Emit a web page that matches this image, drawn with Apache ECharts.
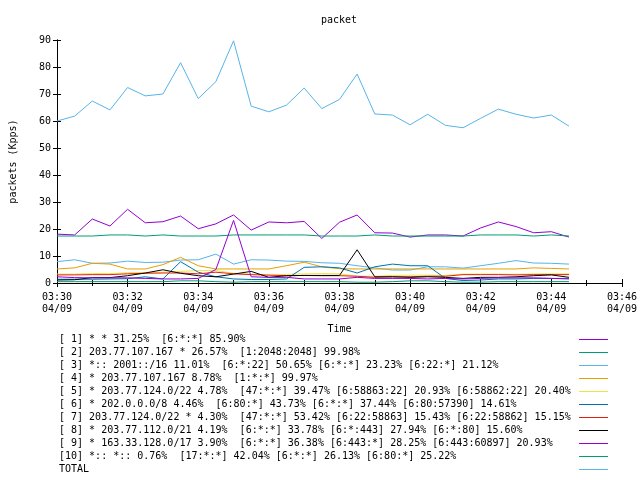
<!DOCTYPE html>
<html><head><meta charset="utf-8">
<script src="https://cdn.jsdelivr.net/npm/echarts@6/dist/echarts.min.js"></script>
<style>html,body{margin:0;padding:0;background:#fff}#c{width:640px;height:480px}</style>
</head><body><div id="c"></div>
<script>
const titleText = 'packet';
const xName = 'Time';
const yName = 'packets (Kpps)';
const times = ['03:30:00','03:30:30','03:31:00','03:31:30','03:32:00','03:32:30','03:33:00','03:33:30','03:34:00','03:34:30',
  '03:35:00','03:35:30','03:36:00','03:36:30','03:37:00','03:37:30','03:38:00','03:38:30','03:39:00','03:39:30',
  '03:40:00','03:40:30','03:41:00','03:41:30','03:42:00','03:42:30','03:43:00','03:43:30','03:44:00','03:44:30'];
const tickLabels = ['03:30\n04/09','03:32\n04/09','03:34\n04/09','03:36\n04/09','03:38\n04/09','03:40\n04/09','03:42\n04/09','03:44\n04/09','03:46\n04/09'];
const yTicks = [0,10,20,30,40,50,60,70,80,90];

const s1 = [18.1,17.8,23.7,21.1,27.3,22.3,22.7,24.8,20.1,21.9,25.2,19.6,22.6,22.3,22.8,16.5,22.5,25.2,18.6,18.5,17.0,17.8,17.8,17.4,20.4,22.6,20.9,18.6,19.0,17.0];
const s2 = [17.4,17.4,17.4,17.8,17.8,17.4,17.8,17.4,17.4,17.4,17.8,17.8,17.8,17.8,17.8,17.4,17.4,17.4,17.8,17.4,17.4,17.4,17.4,17.4,17.8,17.8,17.8,17.4,17.8,17.4];
const s3 = [7.9,8.6,7.3,7.4,8.1,7.6,7.7,8.5,8.6,10.7,7.0,8.6,8.5,8.1,8.0,7.5,7.3,6.4,5.6,4.8,4.8,6.0,6.0,5.5,6.4,7.3,8.3,7.4,7.3,7.0];
const s4 = [5.2,5.6,7.3,7.0,5.2,5.2,6.8,9.5,6.4,5.2,5.2,5.2,5.2,6.4,7.7,6.0,5.3,5.2,5.2,5.2,5.2,5.2,5.2,5.2,5.2,5.2,5.2,5.6,5.4,5.2];
const s5 = [3.3,3.3,3.5,3.5,3.8,3.9,4.0,4.3,4.6,4.6,3.6,3.3,3.0,3.2,3.4,3.5,3.4,2.5,2.5,2.8,2.9,2.9,2.8,3.3,3.3,3.3,3.2,3.4,3.4,3.4];
const s6 = [1.4,1.4,1.4,1.5,1.6,2.3,1.5,7.9,4.0,2.3,1.5,1.3,1.3,1.5,5.8,6.0,5.6,3.7,6.0,7.0,6.4,6.4,1.7,0.9,1.1,1.5,1.5,1.7,1.7,1.7];
const s7 = [3.0,3.0,3.1,3.1,3.4,3.6,3.7,3.7,3.4,4.0,3.4,3.1,2.9,2.7,2.8,2.7,2.7,2.5,2.1,2.3,2.3,2.5,2.5,3.1,3.1,3.1,3.0,3.1,3.1,3.1];
const s8 = [1.1,1.2,2.0,2.0,2.7,3.7,4.9,3.6,2.7,2.3,3.3,4.3,2.1,2.7,2.8,2.8,2.8,12.3,2.3,2.3,2.1,2.3,2.1,1.7,2.1,2.1,2.3,2.7,3.0,2.1];
const s9 = [2.3,2.0,1.9,1.9,1.9,1.7,1.5,1.5,1.7,5.0,23.2,2.3,2.1,2.1,1.5,1.5,1.5,2.1,1.7,1.7,1.7,1.5,1.7,1.5,1.7,1.9,1.9,1.9,1.7,1.5];
const s10 = [0.5,0.5,0.5,0.5,0.5,0.5,0.5,0.8,0.8,0.5,0.3,0.5,0.5,0.5,0.5,0.5,0.5,0.3,0.3,0.5,0.8,0.8,0.5,0.3,0.3,0.5,0.5,0.5,0.5,0.5];
const total = [60.0,61.8,67.4,64.1,72.4,69.3,70.0,81.6,68.3,74.6,89.7,65.5,63.4,65.9,72.2,64.6,68.0,77.4,62.6,62.2,58.6,62.5,58.4,57.5,61.0,64.4,62.5,61.1,62.2,58.1];

const seriesNames = [
  '[ 1] * * 31.25%  [6:*:*] 85.90%',
  '[ 2] 203.77.107.167 * 26.57%  [1:2048:2048] 99.98%',
  '[ 3] *:: 2001::/16 11.01%  [6:*:22] 50.65% [6:*:*] 23.23% [6:22:*] 21.12%',
  '[ 4] * 203.77.107.167 8.78%  [1:*:*] 99.97%',
  '[ 5] * 203.77.124.0/22 4.78%  [47:*:*] 39.47% [6:58863:22] 20.93% [6:58862:22] 20.40%',
  '[ 6] * 202.0.0.0/8 4.46%  [6:80:*] 43.73% [6:*:*] 37.44% [6:80:57390] 14.61%',
  '[ 7] 203.77.124.0/22 * 4.30%  [47:*:*] 53.42% [6:22:58863] 15.43% [6:22:58862] 15.15%',
  '[ 8] * 203.77.112.0/21 4.19%  [6:*:*] 33.78% [6:*:443] 27.94% [6:*:80] 15.60%',
  '[ 9] * 163.33.128.0/17 3.90%  [6:*:*] 36.38% [6:443:*] 28.25% [6:443:60897] 20.93%',
  '[10] *:: *:: 0.76%  [17:*:*] 42.04% [6:*:*] 26.13% [6:80:*] 25.22%',
  'TOTAL'
];
const seriesValues = [s1,s2,s3,s4,s5,s6,s7,s8,s9,s10,total];
const colors = ['#9400d3','#009e73','#56b4e9','#e69f00','#f0e442','#0072b2','#e51e10','#000000','#9400d3','#009e73','#56b4e9'];

const FONT = 'DejaVu Sans Mono';
function toMin(t){ const p = t.split(':').map(Number); return p[0]*60 + p[1] + p[2]/60 - (3*60+30); }
const xs = times.map(toMin);

const chart = echarts.init(document.getElementById('c'), null, {renderer:'canvas'});
const axisLine = {show:true, lineStyle:{color:'#000', width:1}};
const tickStyle = {color:'#000', width:1};
const xCommon = {type:'value', min:0, max:16, interval:2,
  axisLine: axisLine, splitLine:{show:false},
  axisTick:{show:true, inside:true, length:4, lineStyle:tickStyle},
  minorTick:{show:true, splitNumber:2, length:3, lineStyle:tickStyle},
  minorSplitLine:{show:false}};
const yCommon = {type:'value', min:0, max:90, interval:10,
  axisLine: axisLine, splitLine:{show:false},
  axisTick:{show:true, inside:true, length:4, lineStyle:tickStyle}};

chart.setOption({
  animation:false,
  backgroundColor:'#fff',
  color: colors,
  textStyle:{fontFamily:FONT},
  title:{text:titleText, left:334, top:10, textAlign:'center',
    textStyle:{fontFamily:FONT, fontSize:10, fontWeight:'normal', color:'#000'}},
  grid:{left:46, right:18, top:40, bottom:197, containLabel:false},
  xAxis:[
    Object.assign({}, xCommon, {position:'bottom', name:xName, nameLocation:'middle', nameGap:41,
      nameTextStyle:{fontFamily:FONT, fontSize:10, color:'#000'},
      axisLabel:{show:true, margin:8, fontFamily:FONT, fontSize:10, color:'#000', lineHeight:12,
        formatter:function(v){ return tickLabels[Math.round(v/2)] || ''; }}}),
    Object.assign({}, xCommon, {position:'top', axisLabel:{show:false}})
  ],
  yAxis:[
    Object.assign({}, yCommon, {position:'left', name:yName, nameLocation:'middle', nameGap:39, nameRotate:90,
      nameTextStyle:{fontFamily:FONT, fontSize:10, color:'#000'},
      axisLabel:{show:true, margin:6, fontFamily:FONT, fontSize:10, color:'#000',
        formatter:function(v){ return yTicks.indexOf(v) >= 0 ? String(v) : ''; }}}),
    Object.assign({}, yCommon, {position:'right', axisLabel:{show:false}})
  ],
  legend:{
    orient:'vertical', left:59, top:333, height:147, padding:0, itemGap:0, itemWidth:29, itemHeight:1,
    icon:'rect', align:'right', selectedMode:false,
    data: seriesNames,
    formatter: function(name){ return '{t|' + name + '}'; },
    textStyle:{fontFamily:FONT, fontSize:10, color:'#000', lineHeight:13, height:13,
      rich:{ t:{ width:515, height:13, align:'left', fontFamily:FONT, fontSize:10, color:'#000', lineHeight:13 } } }
  },
  series: seriesNames.map(function(n, i){
    return {
      name:n, type:'line', xAxisIndex:0, yAxisIndex:0,
      data: xs.map(function(x, j){ return [x, seriesValues[i][j]]; }),
      symbol:'none', showSymbol:false, smooth:false,
      lineStyle:{width:1, color:colors[i]}, itemStyle:{color:colors[i]},
      emphasis:{disabled:true}
    };
  })
});
</script></body></html>
